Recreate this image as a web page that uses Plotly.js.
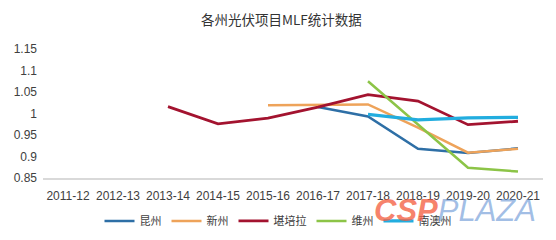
<!DOCTYPE html>
<html>
<head>
<meta charset="utf-8">
<script src="https://cdn.plot.ly/plotly-3.0.1.min.js"></script>
<style>html,body{margin:0;padding:0;background:#fff;}#chart{width:556px;height:240px;}</style>
</head>
<body>
<div id="chart"></div>
<script>
const categories = ['2011-12','2012-13','2013-14','2014-15','2015-16','2016-17','2017-18','2018-19','2019-20','2020-21'];
const seriesNames = ['昆州','新州','堪培拉','维州','南澳州'];
const kunzhou  = [null,null,null,null,null,1.015,0.993,0.918,0.908,0.919];
const xinzhou  = [null,null,null,null,1.019,1.020,1.021,0.967,0.909,0.918];
const canberra = [null,null,1.016,0.976,0.989,1.015,1.044,1.029,0.974,0.982];
const weizhou  = [null,null,null,null,null,null,1.075,0.975,0.874,0.865];
const nanao    = [null,null,null,null,null,null,0.998,0.985,0.990,0.991];
const yTicks = [0.85,0.9,0.95,1,1.05,1.1,1.15];
const yTickText = ['0.85','0.9','0.95','1','1.05','1.1','1.15'];

const colors = ['#2E6FA6','#EEA35A','#A3132F','#8CC447','#22ADDF'];
const widths = [2.5,2.5,2.8,2.5,3.2];
const values = [kunzhou, xinzhou, canberra, weizhou, nanao];

const FONT = 'Liberation Sans, Arial, Noto Sans CJK SC, sans-serif';
const data = values.map((v,i)=>({
  type:'scatter', mode:'lines', name:seriesNames[i], x:categories, y:v,
  line:{color:colors[i], width:widths[i]}, connectgaps:false
}));

const layout = {
  width:556, height:240,
  margin:{l:43, r:13, t:49, b:62, pad:0, autoexpand:false},
  paper_bgcolor:'#fff', plot_bgcolor:'#fff',
  font:{family:FONT, size:12, color:'#404040'},
  title:{text:'各州光伏项目MLF统计数据', font:{family:'Noto Sans CJK SC, sans-serif', size:13.5, color:'#333'}, x:0.506, xanchor:'center', y:0.915, yanchor:'middle', automargin:false},
  xaxis:{type:'category', categoryorder:'array', categoryarray:categories, range:[-0.5,9.5],
    showgrid:false, zeroline:false, showline:true, linecolor:'#D9D9D9', linewidth:1.5,
    ticks:'', ticklabelstandoff:6, tickfont:{family:FONT, size:12, color:'#404040'}, automargin:false},
  yaxis:{range:[0.85,1.15], tickvals:yTicks, ticktext:yTickText, showgrid:false, zeroline:false,
    showline:false, ticks:'', ticklabelstandoff:5, tickfont:{family:FONT, size:12, color:'#404040'}, automargin:false},
  showlegend:true,
  legend:{orientation:'h', x:0.47, xanchor:'center', y:-0.333, yanchor:'middle',
    font:{family:'Noto Sans CJK SC, sans-serif', size:11, color:'#404040'},
    itemwidth:30, tracegroupgap:0, bgcolor:'rgba(0,0,0,0)'},
  annotations:[{
    xref:'paper', yref:'paper', x:0.99, y:-0.25, xanchor:'right', yanchor:'middle', showarrow:false,
    text:'<b><i>CSP</i></b><i>PLAZA</i>',
    font:{family:'Liberation Sans, Arial, sans-serif', size:31, color:'rgba(243,90,60,0.75)'}
  }]
};

Plotly.newPlot('chart', data, layout, {displayModeBar:false, staticPlot:true}).then(()=>{
  const t = document.querySelector('.annotation-text');
  if (t) {
    t.querySelectorAll('tspan').forEach(s=>{
      if (s.textContent==='PLAZA') { s.setAttribute('style', (s.getAttribute('style')||'')+';fill:rgba(90,140,210,0.75);font-weight:normal;'); }
    });
  }
});
</script>
</body>
</html>
